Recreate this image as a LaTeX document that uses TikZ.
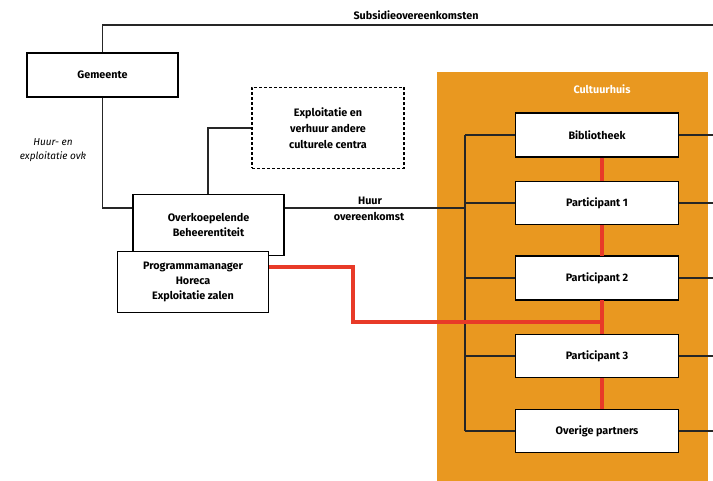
\documentclass[tikz,border=0pt]{standalone}
\usepackage{fontspec}
\setmainfont{Fira Sans}
\usetikzlibrary{calc}
\usetikzlibrary{positioning}
\definecolor{huisoranje}{RGB}{233,152,32}
\definecolor{lijnrood}{RGB}{232,58,40}

\begin{document}
\begin{tikzpicture}[x=1pt,y=-1pt,semithick,font=\fontsize{10.8}{15}\selectfont\bfseries]
  \tikzstyle{blok}=[draw=black,line width=1.3pt,fill=white,align=center,inner sep=2pt]
  \tikzstyle{lijn}=[draw=black!85,line width=1.1pt]
  \tikzstyle{rood}=[draw=lijnrood,line width=4pt]

  \useasboundingbox (0,0) rectangle (713,481);

  % cultuurhuis achtergrond
  \fill[huisoranje] (437,72) rectangle (708,481);
  \node[text=white] (huis) at (602,89) {Cultuurhuis};

  \coordinate (spine) at (465,0);
  \coordinate (rim)   at (713,0);
  \coordinate (topR)  at (713,25);

  % linkerkant
  \node[blok,minimum width=151pt,minimum height=44pt] (gem)  at (102.5,75) {Gemeente};
  \node[blok,dash pattern=on 3pt off 2pt,line width=1.1pt,minimum width=152pt,minimum height=81pt,font=\fontsize{10.8}{16}\selectfont\bfseries] (expl) at (328,128) {Exploitatie en\\ verhuur andere\\ culturele centra};
  \node[font=\fontsize{10}{14}\selectfont\itshape,align=center] (huurlbl) at (53,150) {Huur- en\\ exploitatie ovk};

  % deelnemers
  \node[blok,minimum width=163pt,minimum height=44pt] (bib) at (597,135) {Bibliotheek};
  \node[blok,minimum width=163pt,minimum height=43pt] (p1)  at (597,203) {Participant 1};
  \node[blok,minimum width=163pt,minimum height=44pt] (p2)  at (597,278) {Participant 2};
  \node[blok,minimum width=163pt,minimum height=43pt] (p3)  at (597,356) {Participant 3};
  \node[blok,minimum width=163pt,minimum height=42pt] (ovr) at (597,431) {Overige partners};

  % verbindingen
  \draw[lijn] (gem.north) |- (topR);
  \node (subs) at (416,15) {Subsidieovereenkomsten};
  \draw[lijn] (gem.south) |- (133,208) coordinate (ovkin);
  \draw[lijn] (expl.west) -| (208,194) coordinate (ovktop);
  \draw[lijn] (284,208) coordinate (ovkout) -- (ovkout -| spine);
  \node (huur) at (370,201) {Huur};
  \node (ovk-lbl) at (369,216) {overeenkomst};

  \draw[lijn] (bib.west -| spine) -- (ovr.west -| spine);
  \foreach \b in {bib,p1,p2,p3,ovr}{
    \draw[lijn] (\b.west) -- (\b.west -| spine);
    \draw[lijn] (\b.east) -- (\b.east -| rim);
  }

  % rode lijnen
  \draw[rood] ([xshift=5pt]bib.south) -- ([xshift=5pt]ovr.north);
  \draw[rood] (268,267) -- (353,267) |- (602,322);

  % boxen bovenop
  \foreach \b/\t in {bib/Bibliotheek,p1/Participant 1,p2/Participant 2,p3/Participant 3,ovr/Overige partners}
    \node[blok,minimum width=163pt,minimum height=43pt] at (\b) {\t};

  \node[blok,minimum width=151pt,minimum height=61pt] (ovk)  at (208.5,225) {Overkoepelende\\ Beheerentiteit};
  \node[blok,minimum width=151pt,minimum height=61pt] (prog) at (193,282) {Programmamanager\\ Horeca\\ Exploitatie zalen};
\end{tikzpicture}
\end{document}
